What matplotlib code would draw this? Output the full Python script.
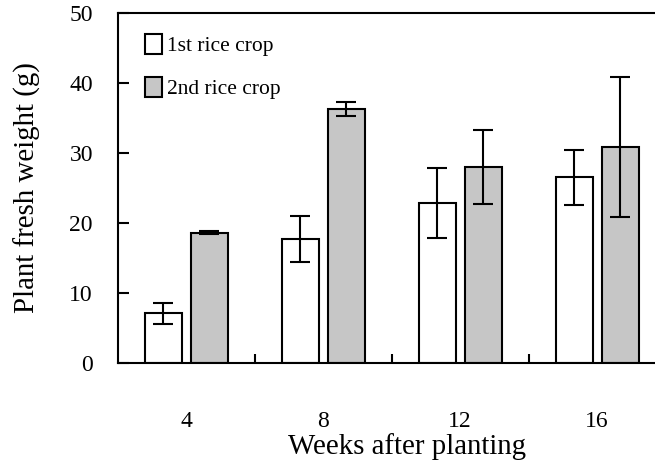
import numpy as np
import matplotlib
matplotlib.use('Agg')
import matplotlib.pyplot as plt
from matplotlib.patches import Patch

plt.rcParams['font.family'] = ['Liberation Serif', 'DejaVu Serif']

weeks = ['4', '8', '12', '16']
crop1 = [7.1, 17.7, 22.9, 26.5]
crop1_err = [1.5, 3.25, 5.0, 3.95]
crop2 = [18.6, 36.3, 28.0, 30.9]
crop2_err = [0.2, 1.0, 5.3, 10.0]
labels = ['1st rice crop', '2nd rice crop']
colors = ['white', '#c6c6c6']

lw = 1.5
x = np.arange(len(weeks))

fig = plt.figure(figsize=(6.55, 4.65), dpi=100)
ax = fig.add_axes([118 / 655, 1 - 362.7 / 465, 547.5 / 655, 349.7 / 465])

err_kw = dict(ecolor='black', elinewidth=lw, capsize=7.2, capthick=lw)
ax.bar(x - 0.168, crop1, width=0.27, yerr=crop1_err, facecolor=colors[0],
       edgecolor='black', linewidth=lw, error_kw=err_kw)
ax.bar(x + 0.168, crop2, width=0.27, yerr=crop2_err, facecolor=colors[1],
       edgecolor='black', linewidth=lw, error_kw=err_kw)

ax.set_xlim(-0.5, 3.5)
ax.set_ylim(0, 50)
ax.set_yticks(np.arange(0, 51, 10))
ax.set_xticks(x)
ax.set_xticklabels(weeks)
ax.set_xticks(x[:-1] + 0.5, minor=True)
ax.tick_params(axis='x', which='major', length=0, pad=35, labelsize=17)
ax.tick_params(axis='x', which='minor', direction='in', length=6.5, width=lw)
ax.tick_params(axis='y', direction='in', length=8, width=lw, pad=18, labelsize=17)
for s in ax.spines.values():
    s.set_linewidth(lw)

ax.set_xlabel('Weeks after planting', fontsize=20.8)
ax.xaxis.set_label_coords(0.527, -0.20)
ax.set_ylabel('Plant fresh weight (g)', fontsize=20.8)
ax.yaxis.label.set_va('center')
ax.yaxis.set_label_coords(-0.166, 0.50)

handles = [Patch(facecolor=c, edgecolor='black', linewidth=lw) for c in colors]
ax.legend(handles, labels, loc='upper left', bbox_to_anchor=(0.049, 0.94),
          frameon=False, fontsize=15.5, handlelength=0.8, handleheight=1.06,
          handletextpad=0.22, labelspacing=0.94, borderpad=0, borderaxespad=0)

fig.savefig('out.png', dpi=100)
